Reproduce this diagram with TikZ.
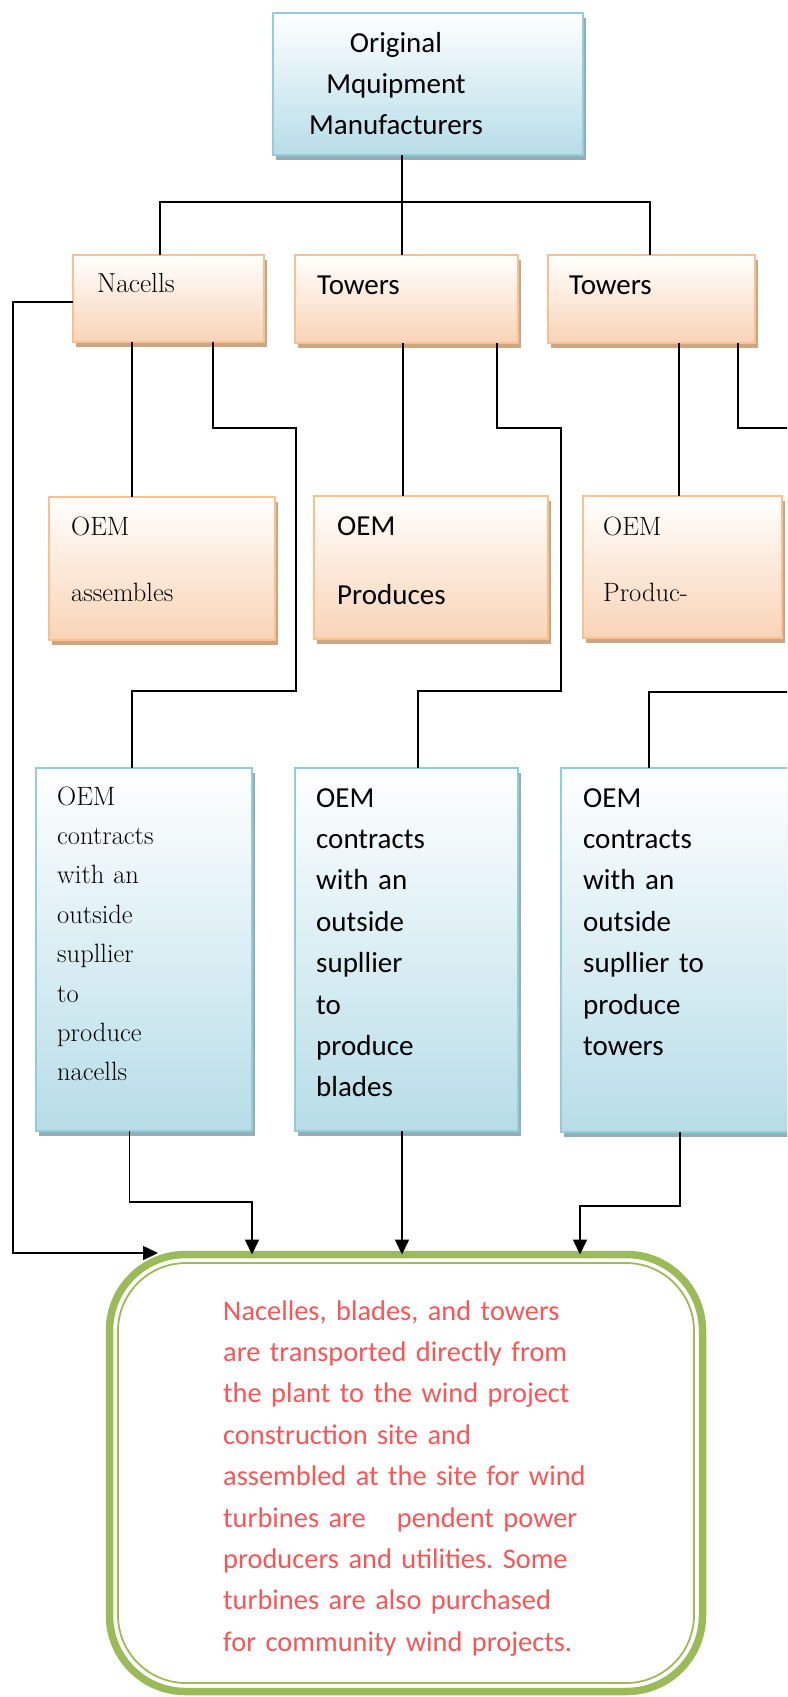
\documentclass[tikz,border=0pt]{standalone}
\usepackage{fontspec}
\setsansfont{Carlito}
\usepackage{xcolor}
\usepackage{tikz}
\usetikzlibrary{arrows.meta, calc}

\definecolor{orgline}{RGB}{250,192,144}
\definecolor{orgfill}{RGB}{249,212,182}
\definecolor{orgshadow}{RGB}{203,165,132}
\definecolor{bluline}{RGB}{146,205,220}
\definecolor{blufill}{RGB}{183,221,232}
\definecolor{blushadow}{RGB}{147,174,184}
\definecolor{sitegreen}{RGB}{155,187,89}
\definecolor{sitered}{RGB}{250,85,85}

\begin{document}
\frenchspacing
\begin{tikzpicture}[x=1pt, y=-1pt,
      cal/.style={font=\sffamily\fontsize{29}{41.4}\selectfont},
      ser/.style={font=\rmfamily\fontsize{26.5}{39.4}\selectfont},
      txt/.style={anchor=base west, inner sep=0pt, align=left, text width=#1},
      obox/.style={draw=orgline, line width=2pt, top color=white, bottom color=orgfill, anchor=north west, inner sep=0pt, outer sep=0pt,
        preaction={fill=orgshadow, transform canvas={xshift=3pt, yshift=-5pt}}},
      bbox/.style={draw=bluline, line width=2pt, top color=white, bottom color=blufill, anchor=north west, inner sep=0pt, outer sep=0pt,
        preaction={fill=blushadow, transform canvas={xshift=3pt, yshift=-5pt}}},
      sitebox/.style={draw=sitegreen, line width=7.5pt, rounded corners=76pt, anchor=north west, inner sep=0pt, outer sep=0pt},
      link/.style={line width=1.6pt},
      arrow/.style={link, -{Triangle[length=15pt, width=14pt]}}
    ]
      \useasboundingbox (0,0) rectangle (787,1697);
      \clip (0,0) rectangle (787,1697);

      \node[bbox, minimum width=310pt, minimum height=142pt] (oem) at (273,13) {};
      \node[cal, anchor=base, inner sep=0pt, align=center, text width=220pt] (oemtxt) at ($(oem.north west)+(123,39)$) {Original\\Mquipment\\Manufacturers};

      \node[obox, minimum width=191pt, minimum height=87pt] (nac) at (73,255) {};
      \node[obox, minimum width=223pt, minimum height=88pt] (twr) at (295,255) {};
      \node[obox, minimum width=207pt, minimum height=88pt] (twrb) at (548,255) {};
      \node[ser, txt=150pt, font=\fontsize{27.5}{39.4}\selectfont] (nactxt) at ($(nac.north west)+(24,37)$) {Nacells};
      \node[cal, txt=150pt] (twrtxt) at ($(twr.north west)+(22,39)$) {Towers};
      \node[cal, txt=150pt] (twrbtxt) at ($(twrb.north west)+(21,39)$) {Towers};

      \node[obox, minimum width=226pt, minimum height=143pt] (asm) at (49,497) {};
      \node[obox, minimum width=234pt, minimum height=143pt] (prd) at (314,496) {};
      \node[obox, minimum width=199pt, minimum height=142pt] (prdb) at (583,496) {};
      \node[ser, txt=180pt] (asmtxt) at ($(asm.north west)+(22,38)$) {OEM\\[27pt]assembles};
      \node[cal, txt=180pt] (prdtxt) at ($(prd.north west)+(23,39)$) {OEM\\[28pt]Produces};
      \node[ser, txt=160pt] (prdbtxt) at ($(prdb.north west)+(20,39)$) {OEM\\[27pt]Produc-};

      \node[bbox, minimum width=216pt, minimum height=363pt] (cnac) at (36,768) {};
      \node[bbox, minimum width=223pt, minimum height=363pt] (cbld) at (295,768) {};
      \node[bbox, minimum width=240pt, minimum height=364pt] (ctwr) at (561,768) {};
      \node[ser, txt=180pt] (cnactxt) at ($(cnac.north west)+(21,37)$)
        {OEM\\contracts\\\makebox[110pt][s]{with an}\\outside\\supllier\\to\\produce\\nacells};
      \node[cal, txt=180pt] (cbldtxt) at ($(cbld.north west)+(21,39)$)
        {OEM\\contracts\\\makebox[117pt][s]{with an}\\outside\\supllier\\to\\produce\\blades};
      \node[cal, txt=180pt] (ctwrtxt) at ($(ctwr.north west)+(22,39)$)
        {OEM\\contracts\\\makebox[124pt][s]{with an}\\outside\\\makebox[124pt][s]{supllier to}\\produce\\towers};

      \node[sitebox, minimum width=593pt, minimum height=437pt] (site) at (109.5,1254.5) {};
      \draw[sitegreen, line width=1.8pt, rounded corners=68pt] ($(site.north west)+(8.5,8.5)$) rectangle ($(site.south east)+(-8.5,-8.5)$);
      \node[cal, txt=440pt, text=sitered, font=\sffamily\fontsize{28.4}{41.4}\selectfont] (sitetxt) at ($(site.north west)+(113.5,65.5)$)
        {Nacelles, blades, and towers\\are transported directly from\\the plant to the wind project\\construction site and\\assembled at the site for wind\\turbines are\hspace{31pt}pendent power\\producers and utilities. Some\\turbines are also purchased\\for community wind projects.};

      \coordinate (hub) at (402,202);
      \draw[link] (oem.south -| hub) -- (hub);
      \draw[link] ([xshift=-8.5pt]nac.north) |- (hub) -| ([xshift=-1.5pt]twrb.north);
      \draw[link] (hub) -- (hub |- twr.north);

      \draw[link] ([xshift=59pt]nac.south west) coordinate (n1) -- (n1 |- asm.north);
      \draw[link] ([xshift=140pt]nac.south west) |- (296,428) -- (296,691) -| ([xshift=-12pt]cnac.north);
      \draw[link] ([xshift=108pt]twr.south west) coordinate (t1) -- (t1 |- prd.north);
      \draw[link] ([xshift=202pt]twr.south west) |- (561,428) -- (561,691) -| ([xshift=11.5pt]cbld.north);
      \draw[link] ([xshift=131pt]twrb.south west) coordinate (t2) -- (t2 |- prdb.north);
      \draw[link] ([xshift=190pt]twrb.south west) |- (800,428) -- (800,692) -| ([xshift=-32pt]ctwr.north);

      \coordinate (sitecorner) at ($(site.north west)+(48.5,-1.5)$);
      \draw[arrow] ([yshift=-3.5pt]nac.west) -| (13,1253) -- (sitecorner);
      \draw[arrow] ([xshift=-14.5pt]cnac.south) |- (252,1202) -- ([xshift=-154pt]site.north);
      \draw[arrow] ([xshift=-4.5pt]cbld.south) coordinate (b1) -- (b1 |- site.north);
      \draw[arrow] ([xshift=-1pt]ctwr.south) |- (580,1206) -- ([xshift=174pt]site.north);
    \end{tikzpicture}
\end{document}
